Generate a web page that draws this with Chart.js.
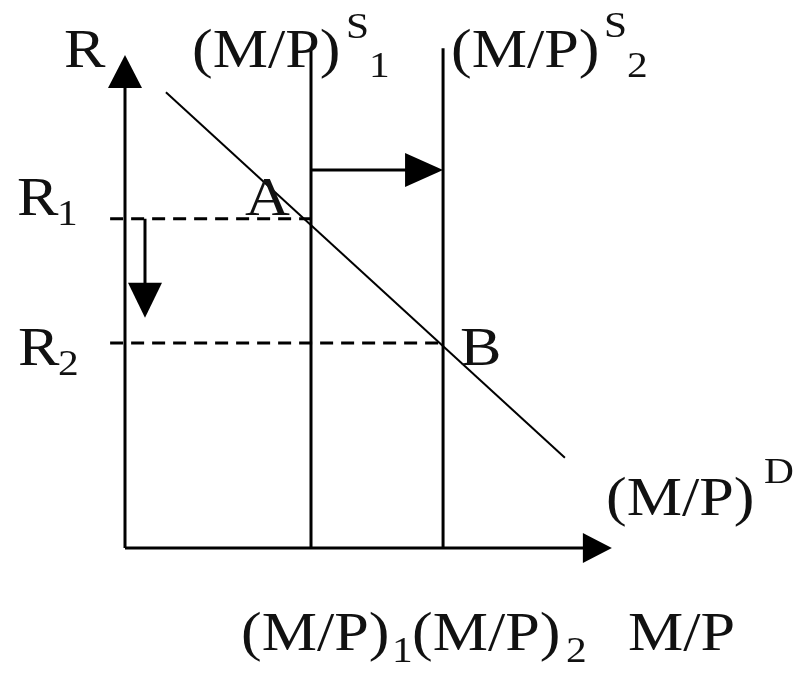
<!DOCTYPE html>
<html>
<head>
<meta charset="utf-8">
<script src="https://cdn.jsdelivr.net/npm/chart.js@4.4.1/dist/chart.umd.min.js"></script>
<style>
  html, body { margin: 0; padding: 0; background: #fff; }
  #wrap { width: 800px; height: 674px; }
</style>
</head>
<body>
<div id="wrap"><canvas id="diagram" width="800" height="674"></canvas></div>
<script>
// Money market diagram: real money supply shifts right, interest rate falls
const realMoney = [4.0, 6.84];          // (M/P)1, (M/P)2 on the horizontal axis
const rates = [7.08, 4.41];             // R1, R2 on the vertical axis
const demandX = [0.88, 9.46];           // (M/P)^D end points
const demandY = [9.8, 1.94];
const supplyTop = 10.75;                // height of the vertical supply lines
const axisEnd = [10.47, 10.6];          // x tip, y tip of the axes
const dashStart = -0.32;                // dashed guides start a bit left of the axis
const shiftLevel = 8.13;                // height of the supply shift arrow
const rateArrowX = 0.43;                // x of the falling rate arrow
const rateArrowEnd = 4.95;

// the canvas is mapped to data units (1 unit ~ 46.5px), origin near the lower left
const UNIT = 46.5;
const ORIGIN = [125, 548];

const serif = '"Liberation Serif", "Times New Roman", serif';

function seg(x1, y1, x2, y2) {
    return [{ x: x1, y: y1 }, { x: x2, y: y2 }];
}

function lineSet(data, width, dash) {
    return {
        data: data,
        showLine: true,
        borderColor: '#000',
        borderWidth: width,
        borderDash: dash || [],
        pointRadius: 0,
        fill: false
    };
}

const datasets = [
    lineSet(seg(0, 0, 0, axisEnd[1] - 0.6), 3),
    lineSet(seg(0, 0, axisEnd[0] - 0.5, 0), 3),
    lineSet(seg(realMoney[0], 0, realMoney[0], supplyTop), 3),
    lineSet(seg(realMoney[1], 0, realMoney[1], supplyTop), 3),
    lineSet(demandX.map((x, i) => ({ x: x, y: demandY[i] })), 2),
    lineSet(seg(dashStart, rates[0], realMoney[0], rates[0]), 3, [13, 8]),
    lineSet(seg(dashStart, rates[1], realMoney[1], rates[1]), 3, [13, 8]),
    lineSet(seg(realMoney[0], shiftLevel, realMoney[1] - 0.5, shiftLevel), 3),
    lineSet(seg(rateArrowX, rates[0], rateArrowX, rateArrowEnd + 0.5), 3)
];

// arrow heads: tip point in data units, direction, length and half width in px
const arrowHeads = [
    { tip: [0, axisEnd[1]], dir: [0, 1], len: 33, half: 17 },
    { tip: [axisEnd[0], 0], dir: [1, 0], len: 29, half: 15 },
    { tip: [realMoney[1], shiftLevel], dir: [1, 0], len: 38, half: 17 },
    { tip: [rateArrowX, rateArrowEnd], dir: [0, -1], len: 35, half: 17 }
];

const arrowPlugin = {
    id: 'arrows',
    afterDatasetsDraw(chart) {
        const ctx = chart.ctx;
        const xs = chart.scales.x, ys = chart.scales.y;
        ctx.save();
        ctx.fillStyle = '#000';
        arrowHeads.forEach(a => {
            const tx = xs.getPixelForValue(a.tip[0]);
            const ty = ys.getPixelForValue(a.tip[1]);
            const dx = a.dir[0], dy = -a.dir[1];   // canvas y runs downwards
            const bx = tx - dx * a.len, by = ty - dy * a.len;
            ctx.beginPath();
            ctx.moveTo(tx, ty);
            ctx.lineTo(bx - dy * a.half, by + dx * a.half);
            ctx.lineTo(bx + dy * a.half, by - dx * a.half);
            ctx.closePath();
            ctx.fill();
        });
        ctx.restore();
    }
};

// text pieces: [text, left px, baseline px, size]
const BIG = 54, SMALL = 36, STRETCH = 1.15;
function labelPieces(chart) {
    const xs = chart.scales.x, ys = chart.scales.y;
    const x1 = xs.getPixelForValue(realMoney[0]);
    const x2 = xs.getPixelForValue(realMoney[1]);
    const y1 = ys.getPixelForValue(rates[0]);
    const y2 = ys.getPixelForValue(rates[1]);
    return [
        ['R', 64, 67, BIG],
        ['(M/P)', x1 - 119, 67, BIG],
        ['S', x1 + 35, 38, SMALL],
        ['1', x1 + 58, 77, SMALL],
        ['(M/P)', x2 + 8, 67, BIG],
        ['S', x2 + 161, 37, SMALL],
        ['2', x2 + 184, 77, SMALL],
        ['R', 17, y1 - 4, BIG],
        ['1', 57, y1 + 6, SMALL],
        ['R', 18, y2 + 22, BIG],
        ['2', 58, y2 + 32, SMALL],
        ['A', x1 - 66, y1 - 4, BIG],
        ['B', x2 + 17, y2 + 22, BIG],
        ['(M/P)', 606, 515, BIG],
        ['D', 764, 483, SMALL],
        ['(M/P)', 241, 650, BIG],
        ['1', 392, 662, SMALL],
        ['(M/P)', 412, 650, BIG],
        ['2', 566, 662, SMALL],
        ['M/P', 628, 650, BIG]
    ];
}

const textPlugin = {
    id: 'labels',
    afterDraw(chart) {
        const ctx = chart.ctx;
        ctx.save();
        ctx.fillStyle = '#111';
        ctx.textBaseline = 'alphabetic';
        ctx.textAlign = 'left';
        labelPieces(chart).forEach(p => {
            ctx.save();
            ctx.font = p[3] + 'px ' + serif;
            ctx.translate(p[1], p[2]);
            ctx.scale(STRETCH, 1);
            ctx.fillText(p[0], 0, 0);
            ctx.restore();
        });
        ctx.restore();
    }
};

const diagram = new Chart(
    document.getElementById('diagram').getContext('2d'),
    {
        type: 'scatter',
        data: { datasets: datasets },
        options: {
            responsive: false,
            animation: false,
            devicePixelRatio: 1,
            layout: { padding: 0 },
            plugins: {
                legend: { display: false },
                tooltip: { enabled: false }
            },
            scales: {
                x: {
                    type: 'linear',
                    display: false,
                    min: -ORIGIN[0] / UNIT,
                    max: (800 - ORIGIN[0]) / UNIT
                },
                y: {
                    type: 'linear',
                    display: false,
                    min: (ORIGIN[1] - 674) / UNIT,
                    max: ORIGIN[1] / UNIT
                }
            }
        },
        plugins: [arrowPlugin, textPlugin]
    }
);
</script>
</body>
</html>
